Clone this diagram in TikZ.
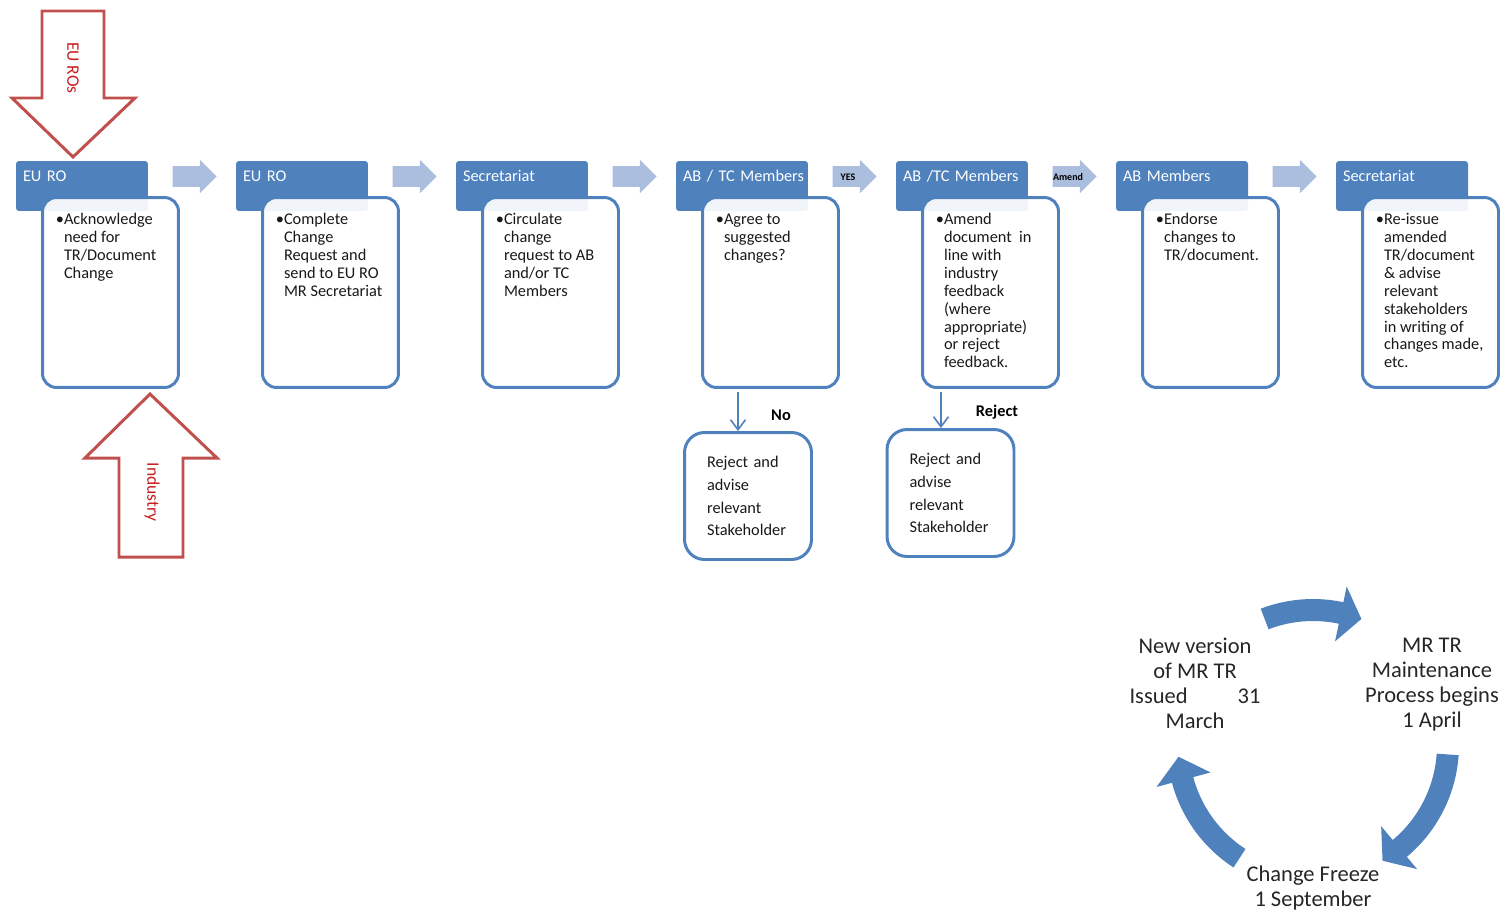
\documentclass[tikz,border=0pt]{standalone}
\usepackage{fontspec}
\setmainfont{Carlito}
\usetikzlibrary{shapes.arrows, arrows.meta, calc}

\definecolor{boxblue}{RGB}{79,129,189}
\definecolor{flowgrey}{RGB}{172,190,222}
\definecolor{roborder}{RGB}{192,80,77}
\definecolor{rotext}{RGB}{200,30,30}

\newcommand{\task}[1]{\textbullet\begin{tabular}[t]{@{}l@{}}#1\end{tabular}}
\newcommand{\cyclearc}[3]{\fill[boxblue] (#1:124) arc[start angle=#1, end angle=#2, radius=124] -- (#2:106) -- (#3:135) -- (#2:162) -- (#2:146) arc[start angle=#2, end angle=#1, radius=146] -- cycle;}

\tikzset{
  rolehead/.style={fill=boxblue, rounded corners=0.06cm, text width=2.36cm, inner xsep=0.14cm, inner ysep=0pt, text height=0.4cm, text depth=0.6cm, align=left, text=white},
  taskbox/.style={draw=boxblue, line width=1.7pt, fill=white, fill opacity=0.92, draw opacity=1, rounded corners=0.28cm, minimum width=2.72cm, minimum height=3.8cm, inner sep=0pt},
  tasktext/.style={anchor=base west, inner sep=0pt, text=black!90},
  flow/.style={single arrow, fill=flowgrey, minimum height=0.88cm, inner xsep=0pt, inner ysep=0.2cm, single arrow head extend=0.13cm},
  flowtag/.style={font=\fontsize{5.7}{6}\selectfont\bfseries, inner sep=0pt},
  entryarrow/.style={draw=roborder, line width=1.7pt, fill=white, line join=miter},
  entrytext/.style={rotate=-90, text=rotext, font=\fontsize{10}{11}\selectfont, inner sep=0pt},
  rejectbox/.style={draw=boxblue, line width=1.7pt, fill=white, rounded corners=0.4cm, minimum width=2.54cm, minimum height=2.54cm, text width=1.64cm, inner xsep=0.45cm, align=left, font=\fontsize{9.3}{13}\selectfont, text=black!90},
  decision/.style={draw=boxblue, line width=0.9pt, -{Straight Barb[length=0.2cm, width=0.3cm]}, shorten <=2pt},
  decisiontext/.style={font=\fontsize{9.3}{10}\selectfont\bfseries, inner sep=0pt},
  cycletext/.style={align=center, inner sep=0pt, font=\fontsize{12.8}{14.2}\selectfont, text=black!85}
}

\begin{document}
\begin{tikzpicture}[x=0.02cm, y=-0.02cm, font=\fontsize{9.3}{10.2}\selectfont]
\useasboundingbox (0,0) rectangle (1501,913);

% inputs
\draw[entryarrow] (42,11) -- (104,11) -- (104,98) -- (135,98) -- (73,157) -- (12,98) -- (42,98) -- cycle;
\node[entrytext] (euros) at (73,68) {EU ROs};

% steps
\node[rolehead] (h1) at (82,186) {\mbox{EU RO}};
\node[taskbox] (b1) at (110.5,292.5) {};
\node[tasktext] (t1) at ([shift={(0.29cm,-0.57cm)}]b1.north west) {\task{Acknowledge\\need for\\TR/Document\\Change}};

\node[rolehead] (h2) at (302,186) {\mbox{EU RO}};
\node[taskbox] (b2) at (330.5,292.5) {};
\node[tasktext] (t2) at ([shift={(0.29cm,-0.57cm)}]b2.north west) {\task{Complete\\Change\\Request and\\send to EU RO\\MR Secretariat}};

\node[rolehead] (h3) at (522,186) {\mbox{Secretariat}};
\node[taskbox] (b3) at (550.5,292.5) {};
\node[tasktext] (t3) at ([shift={(0.29cm,-0.57cm)}]b3.north west) {\task{Circulate\\change\\request to AB\\and/or TC\\Members}};

\node[rolehead] (h4) at (742,186) {\mbox{AB / TC Members}};
\node[taskbox] (b4) at (770.5,292.5) {};
\node[tasktext] (t4) at ([shift={(0.29cm,-0.57cm)}]b4.north west) {\task{Agree to\\suggested\\changes?}};

\node[rolehead] (h5) at (962,186) {\mbox{AB /TC Members}};
\node[taskbox] (b5) at (990.5,292.5) {};
\node[tasktext] (t5) at ([shift={(0.29cm,-0.57cm)}]b5.north west) {\task{Amend\\document\ \ in\\line with\\industry\\feedback\\(where\\appropriate)\\or reject\\feedback.}};

\node[rolehead] (h6) at (1182,186) {\mbox{AB Members}};
\node[taskbox] (b6) at (1210.5,292.5) {};
\node[tasktext] (t6) at ([shift={(0.29cm,-0.57cm)}]b6.north west) {\task{Endorse\\changes to\\TR/document.}};

\node[rolehead] (h7) at (1402,186) {\mbox{Secretariat}};
\node[taskbox] (b7) at (1430.5,292.5) {};
\node[tasktext] (t7) at ([shift={(0.29cm,-0.57cm)}]b7.north west) {\task{Re-issue\\amended\\TR/document\\\& advise\\relevant\\stakeholders\\in writing of\\changes made,\\etc.}};

\draw[entryarrow] (119,557) -- (183,557) -- (183,458) -- (217,458) -- (150,394) -- (85,458) -- (119,458) -- cycle;
\node[entrytext] (industry) at (152,492) {Industry};

% flow between steps
\node[flow] (a12) at (189.5,176.5) {};
\node[flow] (a23) at (409.5,176.5) {};
\node[flow] (a34) at (629.5,176.5) {};
\node[flow] (a45) at (849.5,176.5) {};
\node[flowtag] (yes) at (848,177) {YES};
\node[flow] (a56) at (1069.5,176.5) {};
\node[flowtag] (amend) at (1068,177) {Amend};
\node[flow] (a67) at (1289.5,176.5) {};

% rejections
\node[rejectbox] (r1) at (748,496) {Reject and\\advise\\relevant\\Stakeholder};
\node[rejectbox] (r2) at (950.5,493) {Reject and\\advise\\relevant\\Stakeholder};
\draw[decision] (b4.south -| 738,0) -- (r1.north -| 738,0);
\draw[decision] (b5.south -| 941,0) -- (r2.north -| 941,0);
\node[decisiontext] (no) at (781,415) {No};
\node[decisiontext] (reject) at (997,412) {Reject};

% yearly cycle
\node[cycletext] (issued) at (1195,683) {New version\\of MR TR\\Issued\hspace{1cm}31\\March};
\node[cycletext] (begins) at (1432,685) {MR TR\\Maintenance\\Process begins\\1 April};
\node[cycletext] (freeze) at (1313,888) {Change Freeze\\1 September};
\begin{scope}[shift={(1313,745)}, yscale=-1]
\cyclearc{111}{78}{69}
\cyclearc{-4}{-50}{-59}
\cyclearc{237}{195}{185}
\end{scope}
\end{tikzpicture}
\end{document}
